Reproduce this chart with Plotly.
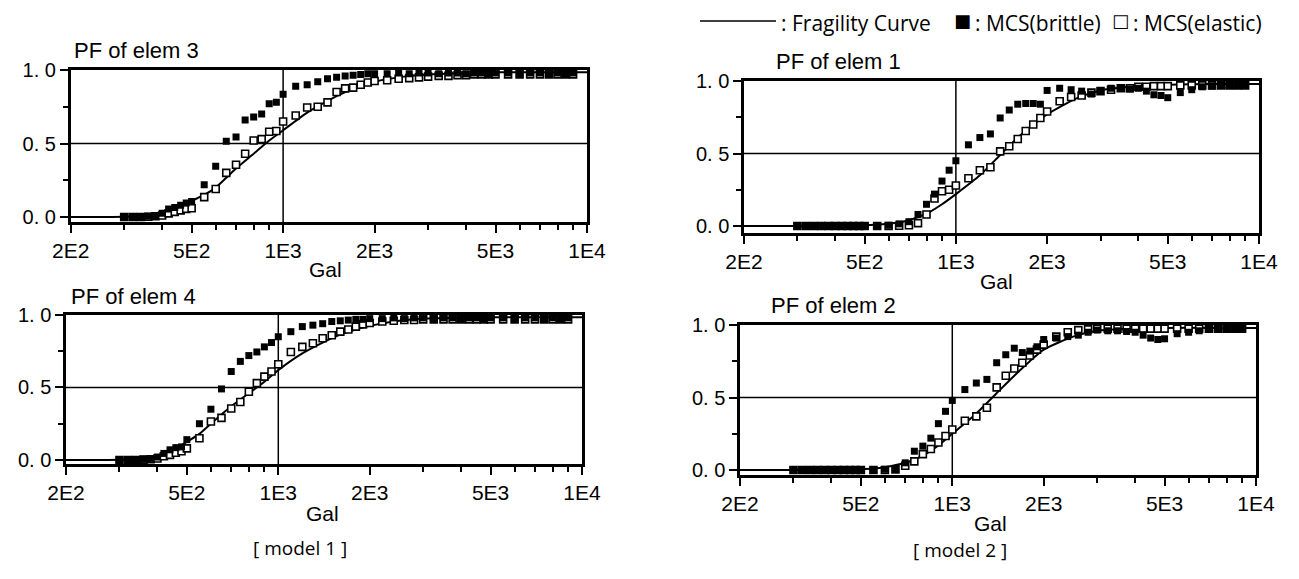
import math
import plotly.graph_objects as go

# ---------------- data ----------------
X_PTS = [300, 320, 340, 360, 380, 400, 420, 440, 460, 480, 500,
         550, 600, 650, 700, 750, 800, 850, 900, 950, 1000,
         1100, 1200, 1300, 1400, 1500, 1600, 1700, 1800, 1900, 2000,
         2200, 2400, 2600, 2800, 3000, 3250, 3500, 3750, 4000, 4250, 4500,
         4750, 5000, 5500, 6000, 6500, 7000, 7500, 8000, 8500, 9000]

CURVE_X = [200, 300, 350, 400, 450, 500, 550, 600, 700, 800, 900, 1000,
           1200, 1400, 1600, 1800, 2000, 2500, 3000, 4000, 5000, 7000, 10000]

# elem 3 (model 1)
E3_BRITTLE = [0, 0, 0.002, 0.005, 0.01, 0.025, 0.055, 0.065, 0.08, 0.095, 0.105,
              0.22, 0.345, 0.515, 0.545, 0.66, 0.68, 0.70, 0.77, 0.78, 0.835,
              0.89, 0.90, 0.92, 0.94, 0.95, 0.96, 0.965, 0.97, 0.975, 0.975,
              0.975, 0.98, 0.975, 0.98, 0.98, 0.975, 0.98, 0.98, 0.975, 0.98, 0.98,
              0.975, 0.98, 0.98, 0.975, 0.98, 0.98, 0.975, 0.98, 0.975, 0.98]
E3_ELASTIC = [0, 0, 0, 0.002, 0.005, 0.01, 0.025, 0.035, 0.045, 0.055, 0.06,
              0.135, 0.19, 0.30, 0.355, 0.43, 0.52, 0.53, 0.58, 0.585, 0.65,
              0.69, 0.745, 0.75, 0.78, 0.85, 0.875, 0.88, 0.90, 0.915, 0.925,
              0.93, 0.94, 0.945, 0.95, 0.955, 0.96, 0.96, 0.965, 0.965, 0.97, 0.97,
              0.97, 0.97, 0.97, 0.97, 0.97, 0.97, 0.97, 0.97, 0.97, 0.97]
E3_CURVE = [0, 0.002, 0.01, 0.025, 0.06, 0.11, 0.15, 0.20, 0.33, 0.43, 0.52, 0.59,
            0.71, 0.79, 0.85, 0.89, 0.92, 0.955, 0.97, 0.98, 0.985, 0.985, 0.985]

# elem 4 (model 1)
E4_BRITTLE = [0, 0, 0.002, 0.005, 0.01, 0.02, 0.045, 0.07, 0.085, 0.09, 0.14,
              0.25, 0.35, 0.49, 0.61, 0.68, 0.72, 0.745, 0.78, 0.81, 0.85,
              0.885, 0.92, 0.93, 0.94, 0.955, 0.96, 0.965, 0.97, 0.97, 0.975,
              0.975, 0.98, 0.975, 0.98, 0.98, 0.975, 0.98, 0.98, 0.975, 0.98, 0.98,
              0.975, 0.98, 0.98, 0.975, 0.98, 0.98, 0.975, 0.98, 0.975, 0.98]
E4_ELASTIC = [0, 0, 0, 0.002, 0.005, 0.01, 0.025, 0.035, 0.05, 0.06, 0.08,
              0.15, 0.265, 0.29, 0.355, 0.40, 0.47, 0.53, 0.575, 0.61, 0.66,
              0.745, 0.78, 0.805, 0.84, 0.86, 0.885, 0.90, 0.92, 0.935, 0.945,
              0.955, 0.96, 0.965, 0.965, 0.97, 0.97, 0.97, 0.97, 0.97, 0.97, 0.97,
              0.97, 0.97, 0.97, 0.97, 0.97, 0.97, 0.97, 0.97, 0.97, 0.97]
E4_CURVE = [0, 0.002, 0.01, 0.03, 0.07, 0.125, 0.18, 0.25, 0.37, 0.46, 0.54, 0.62,
            0.735, 0.81, 0.865, 0.90, 0.925, 0.96, 0.975, 0.98, 0.985, 0.985, 0.985]

# elem 1 (model 2)
E1_BRITTLE = [0, 0, 0, 0, 0, 0, 0, 0, 0, 0, 0,
              0, 0.005, 0.015, 0.03, 0.08, 0.15, 0.22, 0.31, 0.385, 0.45,
              0.56, 0.61, 0.635, 0.745, 0.80, 0.84, 0.845, 0.845, 0.84, 0.935,
              0.95, 0.94, 0.93, 0.91, 0.93, 0.95, 0.955, 0.945, 0.95, 0.93, 0.905,
              0.90, 0.885, 0.92, 0.94, 0.96, 0.965, 0.97, 0.97, 0.97, 0.97]
E1_ELASTIC = [0, 0, 0, 0, 0, 0, 0, 0, 0, 0, 0,
              0, 0, 0.002, 0.005, 0.02, 0.08, 0.19, 0.24, 0.25, 0.28,
              0.33, 0.385, 0.405, 0.515, 0.55, 0.60, 0.655, 0.70, 0.745, 0.79,
              0.86, 0.89, 0.90, 0.92, 0.93, 0.94, 0.95, 0.95, 0.96, 0.96, 0.965,
              0.965, 0.965, 0.97, 0.97, 0.97, 0.97, 0.97, 0.97, 0.97, 0.97]
E1_CURVE = [0, 0, 0, 0, 0.002, 0.005, 0.01, 0.015, 0.04, 0.085, 0.15, 0.22,
            0.35, 0.49, 0.61, 0.70, 0.77, 0.88, 0.935, 0.965, 0.975, 0.98, 0.98]

# elem 2 (model 2)
E2_BRITTLE = [0, 0, 0, 0, 0, 0, 0, 0, 0, 0, 0,
              0, 0.005, 0.01, 0.05, 0.13, 0.165, 0.22, 0.32, 0.405, 0.48,
              0.555, 0.60, 0.625, 0.74, 0.795, 0.84, 0.81, 0.82, 0.85, 0.90,
              0.91, 0.92, 0.93, 0.95, 0.965, 0.96, 0.96, 0.955, 0.95, 0.93, 0.91,
              0.90, 0.905, 0.94, 0.95, 0.96, 0.97, 0.97, 0.97, 0.97, 0.97]
E2_ELASTIC = [0, 0, 0, 0, 0, 0, 0, 0, 0, 0, 0,
              0, 0, 0.005, 0.03, 0.06, 0.11, 0.145, 0.19, 0.235, 0.28,
              0.34, 0.37, 0.43, 0.57, 0.65, 0.70, 0.74, 0.79, 0.83, 0.865,
              0.92, 0.95, 0.965, 0.97, 0.975, 0.975, 0.975, 0.975, 0.975, 0.975, 0.975,
              0.975, 0.975, 0.975, 0.975, 0.975, 0.975, 0.975, 0.975, 0.975, 0.975]
E2_CURVE = [0, 0, 0, 0, 0.002, 0.005, 0.01, 0.02, 0.05, 0.10, 0.17, 0.25,
            0.39, 0.53, 0.65, 0.75, 0.83, 0.92, 0.96, 0.975, 0.98, 0.98, 0.98]

PANEL_TITLES = ["PF of elem 3", "PF of elem 4", "PF of elem 1", "PF of elem 2"]
X_TICKS = [200, 500, 1000, 2000, 5000, 10000]
X_TICKTEXT = ["2E2", "5E2", "1E3", "2E3", "5E3", "1E4"]
X_MINOR = [300, 400, 600, 700, 800, 900, 3000, 4000, 6000, 7000, 8000, 9000]
Y_TICKS = [0, 0.5, 1.0]
Y_TICKTEXT = ["0. 0", "0. 5", "1. 0"]
Y_MINOR = [0.25, 0.75]
LEGEND_LABELS = [": Fragility Curve", ": MCS(brittle)", ": MCS(elastic)"]
LEGEND_GLYPHS = ["\u25a0", "\u25a1"]
MODEL_LABELS = ["[ model 1 ]", "[ model 2 ]"]

# ---------------- layout geometry (page pixels) ----------------
PAGE_W, PAGE_H = 1299, 579
OFF = 8                      # default body margin of the html page
W, H = PAGE_W - OFF, PAGE_H - OFF


def px(xp):
    return (xp - OFF) / W


def py(yp):
    return 1 - (yp - OFF) / H


PANELS = [
    dict(box=(70.7, 587, 70, 222), ylo=-0.034, brittle=E3_BRITTLE, elastic=E3_ELASTIC, curve=E3_CURVE,
         title=(72, 50), gal=(325, 269)),
    dict(box=(66, 582, 315, 464), ylo=-0.028, brittle=E4_BRITTLE, elastic=E4_ELASTIC, curve=E4_CURVE,
         title=(69, 296), gal=(322, 513)),
    dict(box=(744, 1259, 81, 233), ylo=-0.048, brittle=E1_BRITTLE, elastic=E1_ELASTIC, curve=E1_CURVE,
         title=(774, 61), gal=(996, 281)),
    dict(box=(740, 1256, 325, 475), ylo=-0.034, brittle=E2_BRITTLE, elastic=E2_ELASTIC, curve=E2_CURVE,
         title=(769, 305), gal=(990, 523)),
]

FONT_AX = "Liberation Sans, Arial, sans-serif"
FONT_LEG = "Open Sans, Noto Sans, sans-serif"

fig = go.Figure()
layout = dict(template="none", width=W, height=H, autosize=False, margin=dict(l=0, r=0, t=0, b=0, pad=0),
              paper_bgcolor="white", plot_bgcolor="white", showlegend=False)
shapes = []
annotations = []

for i, p in enumerate(PANELS):
    n = i + 1
    xs = "" if n == 1 else str(n)
    xref, yref = "x" + xs, "y" + xs
    l, r, t, b = p["box"]

    fig.add_trace(go.Scatter(x=CURVE_X, y=p["curve"], mode="lines",
                             line=dict(color="black", width=2, shape="spline", smoothing=0.6),
                             xaxis=xref, yaxis=yref, name="Fragility Curve"))
    fig.add_trace(go.Scatter(x=X_PTS, y=p["elastic"], mode="markers",
                             marker=dict(symbol="square", size=7, color="white", line=dict(color="black", width=1.6)),
                             xaxis=xref, yaxis=yref, name="MCS(elastic)"))
    fig.add_trace(go.Scatter(x=X_PTS, y=p["brittle"], mode="markers",
                             marker=dict(symbol="square", size=7, color="black", line=dict(color="black", width=0)),
                             xaxis=xref, yaxis=yref, name="MCS(brittle)"))

    layout["xaxis" + xs] = dict(
        type="log", range=[math.log10(200), 4], domain=[px(l), px(r)], anchor=yref, automargin=False,
        showline=True, linecolor="black", linewidth=2.5, mirror=True,
        ticks="outside", tickvals=X_TICKS, ticktext=X_TICKTEXT, ticklen=8, tickwidth=2, tickcolor="black",
        minor=dict(tickvals=X_MINOR, ticks="outside", ticklen=5, tickwidth=1.5, tickcolor="black", showgrid=False),
        showgrid=False, zeroline=False, tickangle=0,
        tickfont=dict(family=FONT_AX, size=21, color="black"), fixedrange=True)
    layout["yaxis" + xs] = dict(
        range=[p["ylo"], 1.0], domain=[py(b), py(t)], anchor=xref, automargin=False,
        showline=True, linecolor="black", linewidth=2.5, mirror=True,
        ticks="outside", tickvals=Y_TICKS, ticktext=Y_TICKTEXT, ticklen=8, tickwidth=2, tickcolor="black",
        minor=dict(tickvals=Y_MINOR, ticks="outside", ticklen=5, tickwidth=1.5, tickcolor="black", showgrid=False),
        showgrid=False, zeroline=False,
        tickfont=dict(family=FONT_AX, size=20, color="black"), fixedrange=True)

    # reference grid lines at 1E3 and 0.5
    shapes.append(dict(type="line", xref=xref, yref=yref + " domain", x0=1000, x1=1000, y0=0, y1=1,
                       line=dict(color="black", width=1.5), layer="below"))
    shapes.append(dict(type="line", xref=xref + " domain", yref=yref, x0=0, x1=1, y0=0.5, y1=0.5,
                       line=dict(color="black", width=1.5), layer="below"))

    tx, ty = p["title"]
    annotations.append(dict(text=PANEL_TITLES[i], xref="paper", yref="paper", x=px(tx), y=py(ty),
                            xanchor="left", yanchor="middle", showarrow=False,
                            font=dict(family=FONT_AX, size=22, color="black")))
    gx, gy = p["gal"]
    annotations.append(dict(text="Gal", xref="paper", yref="paper", x=px(gx), y=py(gy),
                            xanchor="center", yanchor="middle", showarrow=False,
                            font=dict(family=FONT_AX, size=21, color="black")))

# model labels
annotations.append(dict(text=MODEL_LABELS[0], xref="paper", yref="paper", x=px(300), y=py(548),
                        xanchor="center", yanchor="middle", showarrow=False,
                        font=dict(family=FONT_LEG, size=19, color="black")))
annotations.append(dict(text=MODEL_LABELS[1], xref="paper", yref="paper", x=px(960), y=py(550),
                        xanchor="center", yanchor="middle", showarrow=False,
                        font=dict(family=FONT_LEG, size=19, color="black")))

# legend (top): line sample, square glyphs and labels (boxes kept inside the figure)
LEG_Y = 21
shapes.append(dict(type="line", xref="paper", yref="paper", x0=px(700), x1=px(776),
                   y0=py(LEG_Y), y1=py(LEG_Y), line=dict(color="black", width=1.5)))
for glyph, gx in zip(LEGEND_GLYPHS, [962, 1120]):
    annotations.append(dict(text=glyph, xref="paper", yref="paper", x=px(gx), y=py(LEG_Y),
                            xanchor="center", yanchor="middle", showarrow=False, borderpad=0,
                            font=dict(family="DejaVu Sans", size=18, color="black")))
for label, lx in zip(LEGEND_LABELS, [780, 974, 1132]):
    annotations.append(dict(text=label, xref="paper", yref="paper", x=px(lx), y=1.0,
                            xanchor="left", yanchor="top", showarrow=False, borderpad=0,
                            font=dict(family=FONT_LEG, size=21, color="black")))

layout["shapes"] = shapes
layout["annotations"] = annotations
fig.update_layout(**layout)
fig.write_html("out.html")
